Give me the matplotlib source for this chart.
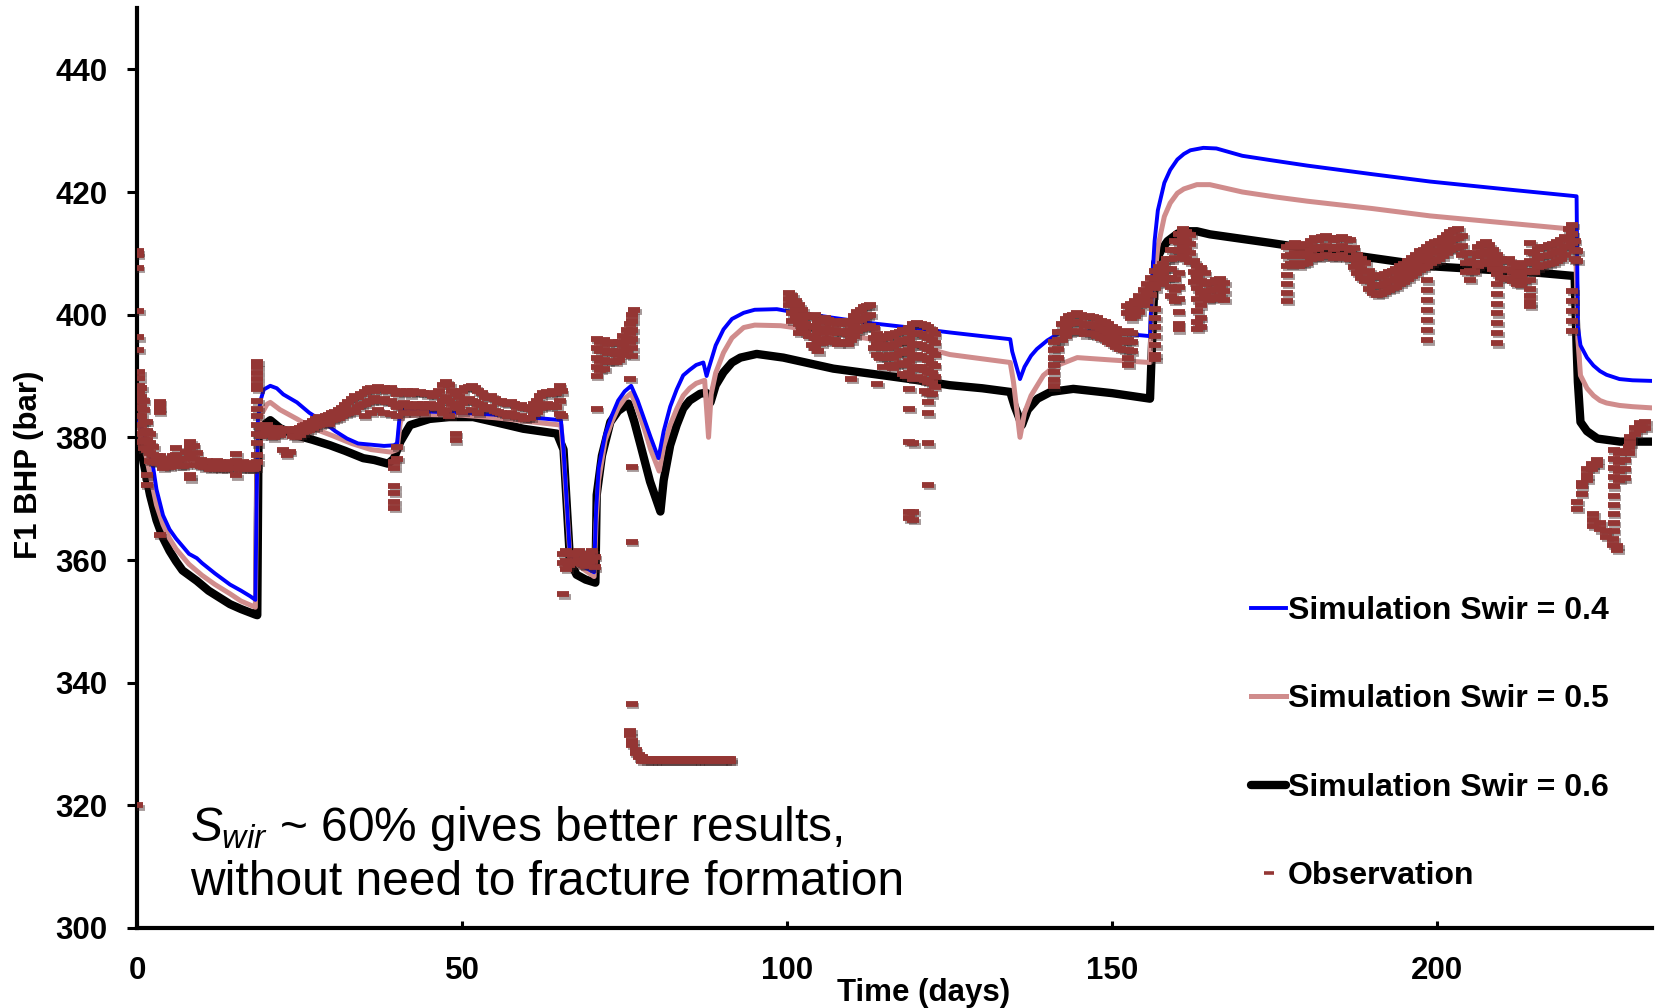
import matplotlib
matplotlib.use("Agg")
import matplotlib.pyplot as plt
from matplotlib.transforms import offset_copy

plt.rcParams['font.family'] = 'Liberation Sans'
plt.rcParams['mathtext.fontset'] = 'custom'
plt.rcParams['mathtext.rm'] = 'Liberation Sans'
plt.rcParams['mathtext.it'] = 'Liberation Sans:italic'
plt.rcParams['mathtext.bf'] = 'Liberation Sans:bold'

# Simulated bottom-hole pressure, Swir = 0.4
sim04_day = [0, 1, 2, 2.5, 3, 4, 5, 6, 8, 9.2, 10, 12, 14.3, 16, 17.4, 18.2,
             18.4, 18.6, 19, 19.5, 20.5, 21.5, 22.5, 24.6, 26.5, 28.7, 30.5, 32.3, 34, 36, 38, 39.5,
             40, 40.5, 41, 45, 50, 55, 60, 65.2,
             65.6, 66.6, 68, 70.3, 70.6, 71, 72, 73, 74, 75, 76, 77, 78, 79, 80.2,
             81, 82, 83, 84, 85, 86, 87.1, 87.6, 88, 89, 90.2, 91.5, 93.3, 95, 98.4, 100, 107, 113,
             118.9, 125, 130, 134.3, 134.6, 135.8, 136.5, 137.5, 138.4, 140, 142, 145, 149.7, 155.8,
             156.1, 156.5, 157, 158, 158.9, 160, 161, 162, 164, 166, 168, 170, 174.3, 180, 190,
             198.9, 210, 221.4, 221.6, 222, 223, 224, 225, 226, 228, 230, 233]
sim04_bar = [383, 381, 377, 375, 371.5, 367.3, 365, 363.5, 361, 360.3, 359.5, 357.8, 356, 355, 354.1, 353.5,
             370, 383, 386, 387.8, 388.4, 388, 387, 385.7, 384, 382.5, 381, 379.8, 379, 378.8, 378.6, 378.7,
             379, 384.7, 384.5, 384.2, 384, 383.7, 383.3, 382.8,
             378, 360.5, 359.3, 358, 368, 375, 380.5, 383.5, 386, 387.5, 388.4, 386, 383, 380, 376.6,
             381, 385, 387.8, 390.1, 391, 391.8, 392.2, 390, 391.5, 395, 397.6, 399.3, 400.3, 400.8, 400.9, 400.6, 399.5, 398.6,
             397.9, 397.1, 396.5, 396, 394, 389.5, 391.5, 393.3, 394.4, 395.8, 397.1, 397.3, 397.1, 396.5,
             405, 412, 417, 421.5, 423.6, 425.3, 426.2, 426.8, 427.2, 427.1, 426.5, 425.9, 425.2, 424.3, 422.9,
             421.7, 420.5, 419.3, 398, 395, 393, 391.7, 390.8, 390.2, 389.5, 389.3, 389.2]

# Swir = 0.5
sim05_day = [0, 1, 2, 3, 4, 5, 6, 8, 10, 12, 14.3, 16, 18.2,
             18.5, 19, 20, 20.5, 22, 24.6, 27, 30, 33, 36, 39,
             40, 40.5, 41, 45, 50, 55, 60, 65.2,
             65.6, 66.6, 68, 70.3, 70.6, 71, 72, 73, 74, 75, 76, 77, 78, 79, 80.3,
             81, 82, 83, 84, 85, 86, 87.3, 87.9, 88.3, 89, 90.2, 91.5, 93.3, 95, 99, 107, 113,
             118.9, 125, 130, 134.3, 134.8, 135.8, 136.5, 137.5, 139.4, 141, 144.6, 150, 155.8,
             156, 156.5, 157, 158, 158.9, 160, 161, 163, 165, 170, 175, 180, 190, 198.9, 210, 221.2,
             221.6, 222, 223, 224, 225, 226, 228, 230, 233]
sim05_bar = [382, 379, 374, 369, 365.8, 363.5, 361.8, 359.3, 357.5, 356, 354.5, 353.3, 352.3,
             380, 383.5, 385.4, 385.7, 384.5, 383, 381.5, 380.3, 379, 378, 377.6,
             378, 382.5, 383.5, 383.7, 383.6, 383.2, 382.6, 382,
             377, 360.5, 359, 357.3, 366, 373, 379.5, 382.5, 384.8, 386.3, 387.2, 384.5, 381.5, 378, 374.5,
             378.5, 382, 384.6, 386.8, 388, 388.8, 389.3, 380, 387, 390.5, 393.8, 396.2, 397.9, 398.3, 398.2, 397, 396,
             395.2, 393.5, 392.8, 392.2, 389, 380, 384, 386.8, 390.1, 391.5, 393, 392.6, 392.2,
             400, 406, 411, 416, 418.2, 419.8, 420.5, 421.2, 421.2, 420, 419.2, 418.5, 417.3, 416.1, 415, 413.9,
             396, 390.1, 388, 386.8, 386, 385.6, 385.2, 385, 384.8]

# Swir = 0.6
sim06_day = [0, 0.5, 1, 2, 3, 4, 5, 6, 7, 9.2, 11, 14.3, 16, 18.2, 18.5,
             18.7, 19.5, 20.5, 22, 24.6, 27, 29.7, 32, 34.8, 36.5, 38.6, 39.5, 40.5, 42, 45, 48,
             51.7, 55, 59.4, 64.6, 65.6, 66.6, 67.6, 69, 70.5,
             70.7, 71.5, 72.8, 74, 75.6, 76.5, 77.5, 78.9, 80.5, 81, 82, 83, 84, 85, 86.6, 87.5, 88.2,
             89, 90.2, 91.5, 92.8, 95.3, 99.4, 107.1, 114.8, 118.9, 125, 130, 134.3, 135, 136.1, 137,
             138.5, 140.5, 144, 150, 155.8, 156.1, 156.6, 157.5, 158.5, 160, 161, 163, 165, 174.3,
             185, 198.9, 215.8, 221.1, 221.4, 221.6, 222, 223, 224.6, 228.1, 233]
sim06_bar = [381, 379.3, 376, 370.6, 366.5, 363.6, 361.5, 359.8, 358.3, 356.6, 355, 352.8, 352, 351.1, 351,
             381.4, 382, 382.8, 381.5, 380.3, 379.6, 378.7, 377.8, 376.6, 376.3, 375.7, 376.5, 379.3, 382, 383, 383.3,
             383.3, 382.5, 381.4, 380.6, 378, 359.8, 357.6, 356.8, 356.3,
             370.6, 377, 382.5, 384.3, 385.5, 382.5, 378.5, 372.8, 367.9, 373, 378.7, 382, 384.7, 386, 387.1, 387.3, 385.7,
             388.5, 390.6, 392.2, 393, 393.6, 393, 391.2, 390.1, 389.5, 388.5, 388, 387.4, 385, 382, 384.5,
             386.3, 387.4, 387.9, 387.2, 386.3, 395, 408.5, 410.5, 412, 413.2, 413.6, 413.6, 413.1, 411.7,
             410, 407.9, 406.8, 406.3, 395, 389, 382.5, 381, 379.8, 379.3, 379.3]

# Observed BHP: each row is (day, pressure readings on that day ...)
obs_first_weeks = [
    (0.0, 320.0), (0.1, 410.3, 409.8, 407.6), (0.2, 400.6, 396.3, 394.3),
    (0.3, 390.6, 389.6, 388.4, 387.2, 386.0, 384.8, 383.5),
    (0.6, 388.0, 386.5, 385.0, 383.5, 382.0, 380.5, 379.2),
    (1.0, 386.0, 384.5, 382.5, 381.0, 379.5, 378.2), (1.5, 382.5, 381.0, 379.5, 378.0, 373.8, 372.2),
    (2.0, 380.5, 379.0, 377.5, 376.2), (2.5, 378.5, 377.2, 376.0), (3.0, 377.0, 375.8),
    (3.5, 385.8, 384.9, 384.2, 377.0, 376.0, 364.1), (4.0, 376.0, 375.0), (4.5, 376.5, 375.3),
    (5.0, 376.2, 375.2), (5.5, 377.0, 375.8), (6.0, 378.2, 377.2, 376.0), (6.5, 376.5, 375.3),
    (7.0, 376.5, 375.4), (7.5, 377.6, 375.5), (8.2, 379.3, 378.5, 377.0, 373.8, 373.3), (8.7, 378.6, 376.5),
    (9.2, 377.5, 375.5), (9.8, 376.3, 375.3), (10.3, 376.0, 375.1), (10.8, 376.2, 375.2),
    (11.3, 376.0, 374.9), (11.8, 375.8, 375.0), (12.3, 376.1, 375.1), (12.8, 375.9, 374.8),
    (13.3, 375.8, 375.0), (13.8, 375.7, 374.9), (14.3, 376.0, 375.0), (14.8, 375.8, 375.0),
    (15.3, 377.3, 376.2, 373.8), (15.8, 375.6, 374.8), (16.3, 375.9, 375.0), (16.8, 375.7, 374.8),
    (17.3, 375.6, 374.9), (17.8, 375.8, 374.9), (18.2, 375.7, 375.0),
    (18.5, 392.3, 391.5, 390.5, 389.5, 388.5, 387.9, 386.0, 384.7, 383.5, 382.0, 380.5, 379.0, 377.1, 376.0),
]
obs_days_19_40 = [
    (19.0, 381.5, 380.2), (19.5, 381.8, 380.5), (20.0, 382.0, 380.8), (20.5, 381.5, 380.3),
    (21.0, 381.2, 380.0), (21.5, 381.6, 380.5), (22.0, 381.3, 380.4), (22.5, 381.0, 378.0),
    (23.0, 381.2, 377.2), (23.5, 381.4, 377.6), (24.0, 381.0, 380.2), (24.5, 381.3, 380.0),
    (25.0, 381.5, 380.4), (25.5, 381.8, 380.8), (26.0, 382.0, 381.0), (26.5, 382.4, 381.2),
    (27.0, 382.6, 381.5), (27.5, 383.0, 381.8), (28.0, 383.3, 382.0), (28.5, 383.2, 382.2),
    (29.0, 383.5, 382.4), (29.5, 383.6, 382.2), (30.0, 384.0, 382.8), (30.5, 384.2, 383.0),
    (31.0, 384.5, 383.2), (31.5, 384.8, 383.5), (32.0, 385.3, 383.8), (32.5, 385.8, 384.0),
    (33.0, 386.3, 384.5), (33.5, 386.8, 384.2), (34.0, 386.5, 385.0), (34.5, 387.0, 385.3),
    (35.0, 387.4, 385.5, 383.5), (35.5, 387.8, 385.8), (36.0, 388.0, 386.0, 384.0), (36.5, 387.6, 386.4),
    (37.0, 388.2, 386.1, 384.5), (37.5, 387.8, 386.0), (38.0, 388.1, 386.2, 384.0), (38.5, 387.5, 385.8),
    (39.0, 388.0, 386.0, 383.8), (39.5, 387.6, 385.5, 376.0, 375.0, 372.0, 371.0, 369.5, 368.5),
]
obs_days_40_66 = [
    (40.0, 387.0, 385.0, 383.5, 378.5, 376.5), (40.5, 387.5, 385.2), (41.0, 387.2, 385.6, 384.0),
    (41.5, 387.6, 385.5), (42.0, 387.0, 385.0), (42.5, 387.5, 385.3, 384.0), (43.0, 387.3, 385.5),
    (43.5, 387.4, 385.0), (44.0, 387.2, 385.5, 384.0), (44.5, 387.0, 385.0), (45.0, 387.3, 385.4),
    (45.5, 386.8, 385.0), (46.0, 387.0, 384.8), (46.5, 387.5, 385.2), (47.0, 388.5, 386.0, 384.0),
    (47.5, 389.0, 386.5, 384.5), (48.0, 388.5, 386.0, 383.5), (48.5, 387.5, 385.5),
    (49.0, 387.0, 385.0, 380.5, 379.5), (49.5, 386.5, 384.8), (50.0, 387.6, 385.6, 384.2),
    (50.5, 388.0, 386.0), (51.0, 388.2, 386.3), (51.5, 388.3, 386.0, 384.5), (52.0, 388.0, 385.8),
    (52.5, 387.5, 385.5, 384.0), (53.0, 387.2, 385.2), (53.5, 386.6, 384.8), (54.0, 386.4, 384.6),
    (54.5, 386.8, 385.0), (55.0, 386.3, 384.3), (55.5, 385.8, 384.2), (56.0, 386.0, 384.0),
    (56.5, 385.6, 383.8), (57.0, 385.4, 383.5), (57.5, 385.8, 384.0), (58.0, 385.5, 383.6),
    (58.5, 385.0, 383.3), (59.0, 385.2, 383.4), (59.5, 384.8, 383.0), (60.0, 385.0, 383.2),
    (60.5, 384.7, 383.2), (61.0, 385.5, 383.8), (61.5, 386.0, 384.2), (62.0, 386.8, 384.8),
    (62.5, 387.2, 385.2), (63.0, 387.4, 385.5), (63.5, 387.0, 385.0), (64.0, 387.5, 385.3),
    (64.5, 387.2, 385.0), (65.0, 388.4, 386.0, 383.8), (65.3, 387.5, 383.5),
]
obs_days_65_92 = [
    (65.5, 361.0, 359.5, 354.4), (66.0, 361.5, 359.8, 358.5), (66.5, 361.0, 359.2), (67.0, 360.8, 359.5),
    (67.5, 361.2, 359.8), (68.0, 361.5, 360.0), (68.5, 361.0, 359.3), (69.0, 360.5, 359.0),
    (69.5, 361.0, 359.6), (70.0, 361.4, 359.8), (70.4, 360.5, 358.8),
    (70.7, 396.0, 394.5, 393.0, 391.5, 390.0, 384.7), (71.2, 395.5, 394.0, 392.5, 391.0),
    (71.8, 395.8, 394.2, 392.6, 391.2), (72.4, 395.2, 393.8, 392.3), (73.0, 395.6, 394.0, 392.5),
    (73.6, 395.3, 393.6, 392.3), (74.2, 395.5, 394.0, 392.6), (74.8, 396.5, 395.0, 393.5),
    (75.3, 397.5, 396.0, 394.2), (75.8, 398.5, 397.0, 395.5, 389.5, 332.2, 331.5),
    (76.1, 375.2, 363.0, 336.6), (76.2, 400.0, 399.0, 397.5, 396.0, 394.5, 393.3, 330.5, 329.8),
    (76.5, 400.8), (76.7, 329.0, 328.5), (77.2, 328.2, 327.8), (77.7, 327.8, 327.3),
    (78.3, 327.6, 327.3), (78.9, 327.6, 327.3), (79.5, 327.6, 327.3), (80.1, 327.6, 327.3),
    (80.7, 327.6, 327.3), (81.3, 327.6, 327.3), (81.9, 327.6, 327.3), (82.5, 327.6, 327.3),
    (83.1, 327.6, 327.3), (83.7, 327.6, 327.3), (84.3, 327.6, 327.3), (84.9, 327.6, 327.3),
    (85.5, 327.6, 327.3), (86.1, 327.6, 327.3), (86.7, 327.6, 327.3), (87.3, 327.6, 327.3),
    (87.9, 327.6, 327.3), (88.5, 327.6, 327.3), (89.1, 327.6, 327.3), (89.7, 327.6, 327.3),
    (90.3, 327.6, 327.3), (90.9, 327.6, 327.3), (91.2, 327.6, 327.3),
]
obs_days_100_123 = [
    (100.3, 403.6, 402.5, 401.5), (100.8, 403.0, 401.8, 400.2, 399.0), (101.3, 402.2, 400.8, 399.5),
    (101.8, 401.5, 400.0, 398.5, 397.0), (102.3, 400.8, 399.2, 397.8), (102.8, 400.0, 398.5, 397.0),
    (103.3, 399.6, 398.0, 396.5), (103.8, 399.8, 398.2, 396.6, 395.0), (104.3, 400.0, 398.0, 396.2, 394.5),
    (104.8, 399.0, 397.3, 395.5, 394.0), (105.3, 398.8, 397.0, 395.3), (105.8, 399.5, 397.8, 396.0),
    (106.3, 399.2, 397.6, 396.0), (106.8, 398.6, 397.0, 395.5), (107.3, 399.0, 397.5, 395.8),
    (107.8, 398.5, 397.0, 395.2), (108.3, 398.8, 397.2, 395.6), (108.8, 399.0, 397.4, 395.6),
    (109.3, 398.4, 396.8, 395.2), (109.8, 399.0, 397.5, 395.8, 389.5), (110.3, 399.8, 398.2, 396.5),
    (110.8, 400.5, 399.0, 397.3), (111.3, 400.8, 399.2, 397.6), (111.8, 401.2, 399.5, 397.8),
    (112.3, 401.4, 399.8, 398.0), (112.8, 401.5, 400.0, 398.2), (113.3, 397.8, 396.2, 394.5),
    (113.8, 396.8, 395.2, 393.5, 388.7), (114.3, 396.0, 394.5, 393.0), (114.8, 396.5, 395.0, 393.2, 391.5),
    (115.3, 396.2, 394.6, 393.0), (115.8, 396.8, 395.0, 393.4, 391.8), (116.3, 396.5, 394.8, 393.0, 391.3),
    (116.8, 397.0, 395.2, 393.5, 391.8), (117.3, 397.2, 395.6, 393.8, 392.0),
    (117.8, 397.5, 395.8, 394.0, 392.2, 390.4), (118.3, 397.2, 395.5, 393.7, 391.8, 390.0),
    (118.8, 397.8, 396.0, 394.2, 392.4, 390.5, 387.9, 384.6, 379.3, 367.9, 366.8),
    (119.4, 398.5, 396.8, 395.0, 393.0, 391.2, 389.5, 379.0, 367.9, 366.5),
    (120.0, 398.7, 397.0, 395.2, 393.5, 391.5, 389.8), (120.6, 398.5, 396.8, 395.0, 393.2, 391.4, 389.6),
    (121.2, 398.3, 396.6, 394.8, 393.0, 391.0, 389.3, 387.5),
    (121.7, 398.0, 396.2, 394.4, 392.6, 390.6, 389.0, 387.2, 385.8, 383.9, 379.0, 372.2),
    (122.2, 397.5, 395.8, 394.0, 392.0, 390.5, 388.8, 387.0), (122.7, 396.8, 395.3, 393.5, 391.7, 389.9, 388.2),
]
obs_days_141_168 = [
    (141.0, 395.5, 394.2, 393.0, 391.8, 390.6, 389.4, 388.3), (141.6, 397.2, 395.8, 394.4, 393.0),
    (142.2, 398.5, 397.2, 395.8), (142.8, 399.3, 398.0, 396.6), (143.4, 399.8, 398.5, 397.1),
    (144.0, 400.0, 398.6, 397.2), (144.6, 400.2, 398.8, 397.4), (145.2, 400.0, 398.6, 397.2),
    (145.8, 399.6, 398.2, 396.8), (146.4, 399.8, 398.4, 397.0), (147.0, 399.6, 398.2, 396.8),
    (147.6, 399.4, 398.0, 396.6), (148.2, 399.0, 397.6, 396.2), (148.8, 398.8, 397.4, 396.0),
    (149.4, 398.4, 397.0, 395.6), (150.0, 398.0, 396.6, 395.2), (150.6, 397.6, 396.2, 394.8),
    (151.2, 397.2, 395.8, 394.4), (151.8, 397.0, 395.6, 394.2), (152.4, 397.3, 395.8, 394.3, 393.0, 391.8),
    (153.0, 397.0, 395.5, 394.0), (152.3, 401.4, 400.2), (152.9, 401.8, 400.6, 399.4),
    (153.5, 402.3, 401.0, 399.8), (154.1, 403.0, 401.8, 400.5), (154.8, 404.1, 402.8, 401.5),
    (155.4, 405.0, 403.6, 402.2), (156.0, 406.0, 404.6, 403.2),
    (156.6, 407.2, 405.8, 404.3, 400.9, 399.5, 398.0, 396.5, 395.0, 393.5, 392.8),
    (157.2, 407.8, 406.4, 405.0), (157.8, 408.3, 406.8, 405.2), (158.4, 409.0, 407.5, 406.0),
    (159.0, 410.5, 409.0, 407.5, 406.0, 404.5, 403.0), (159.6, 412.0, 410.6, 409.2, 405.8, 404.0, 402.2),
    (160.2, 413.2, 411.8, 410.3, 406.8, 404.5, 402.5, 400.5, 398.5, 397.6),
    (160.8, 413.9, 412.5, 411.0, 409.5), (161.4, 413.5, 412.0, 410.5, 409.0), (162.0, 413.0, 411.5, 410.0, 408.6),
    (162.6, 408.7, 407.0, 405.3), (163.1, 408.0, 406.2, 404.3, 402.5, 400.6, 398.8, 397.7),
    (163.6, 407.6, 405.5, 403.5, 401.5, 399.5, 398.0), (164.2, 406.8, 405.0, 403.0),
    (164.8, 405.2, 403.8, 402.4), (165.4, 405.4, 404.0, 402.6), (166.0, 405.6, 404.2, 402.8),
    (166.6, 405.8, 404.5, 403.0), (167.2, 405.2, 403.8, 402.4),
]
obs_days_176_198 = [
    (176.9, 411.0, 409.5, 408.0, 406.5, 405.0, 403.5, 402.2), (177.5, 411.4, 409.8, 408.2),
    (178.1, 411.7, 410.1, 408.5), (178.7, 411.0, 409.5, 408.0), (179.3, 411.3, 409.8, 408.3),
    (179.9, 411.6, 410.0, 408.5), (180.5, 412.0, 410.5, 409.0), (181.1, 412.5, 411.0, 409.5),
    (181.7, 412.2, 410.7, 409.2), (182.3, 412.6, 411.0, 409.5), (182.9, 412.8, 411.2, 409.7),
    (183.5, 412.5, 411.0, 409.5), (184.1, 412.2, 410.7, 409.2), (184.7, 412.5, 411.0, 409.5),
    (185.3, 412.7, 411.2, 409.7), (185.9, 412.4, 410.8, 409.2), (186.5, 412.2, 410.6, 409.0),
    (187.1, 410.8, 409.3, 407.8), (187.7, 409.8, 408.3, 406.8), (188.3, 409.0, 407.5, 406.0),
    (188.9, 408.5, 407.0, 405.5), (189.5, 407.2, 405.7, 404.2), (190.1, 406.4, 404.9, 403.5),
    (190.7, 406.1, 404.6, 403.2), (191.3, 406.3, 404.8, 403.4), (191.9, 406.6, 405.1, 403.7),
    (192.5, 407.0, 405.5, 404.0), (193.1, 407.2, 405.7, 404.3), (193.7, 407.5, 406.0, 404.5),
    (194.3, 407.9, 406.4, 405.0), (194.9, 408.3, 406.8, 405.3), (195.5, 408.8, 407.3, 405.8),
    (196.1, 409.3, 407.8, 406.3), (196.7, 409.8, 408.3, 406.8), (197.3, 410.3, 408.8, 407.3),
    (197.9, 410.6, 409.1, 407.6),
]
obs_days_198_233 = [
    (198.4, 411.0, 409.5, 408.0, 405.6, 404.0, 402.4, 400.8, 399.2, 397.5, 395.8),
    (199.0, 411.5, 410.0, 408.5), (199.6, 411.8, 410.3, 408.8), (200.2, 412.0, 410.5, 409.0),
    (200.8, 412.5, 411.0, 409.5), (201.4, 413.0, 411.5, 410.0), (202.0, 413.5, 412.0, 410.5),
    (202.6, 413.8, 412.3, 410.8), (203.2, 414.0, 412.5, 411.0), (203.8, 412.8, 411.2, 409.7),
    (204.4, 410.0, 408.5, 407.0), (205.0, 408.7, 407.2, 405.7), (205.6, 410.0, 408.5, 407.0),
    (206.2, 411.0, 409.5, 408.0), (206.8, 411.5, 410.0, 408.5), (207.4, 411.8, 410.3, 408.8),
    (208.0, 411.3, 409.8, 408.3), (208.6, 410.5, 409.0, 407.5),
    (209.2, 409.7, 408.2, 406.7, 405.0, 403.4, 401.8, 400.2, 398.6, 397.0, 395.3),
    (209.8, 409.0, 407.5, 406.0), (210.4, 408.8, 407.3, 405.8), (211.0, 409.0, 407.5, 406.0),
    (211.6, 408.5, 407.0, 405.5), (212.2, 408.0, 406.5, 405.0), (212.8, 407.8, 406.3, 404.8),
    (213.4, 408.5, 407.0, 405.5),
    (214.3, 411.7, 410.2, 408.7, 407.2, 405.7, 404.2, 403.0, 402.0, 401.4), (214.8, 410.0, 408.5, 407.0),
    (215.4, 410.7, 409.2, 407.7), (216.0, 411.0, 409.5, 408.0), (216.6, 411.1, 409.6, 408.1),
    (217.2, 411.3, 409.8, 408.3), (217.8, 411.5, 410.0, 408.5), (218.4, 411.8, 410.3, 408.8),
    (219.0, 412.1, 410.6, 409.1), (219.6, 412.7, 411.2, 409.7), (220.2, 414.0, 412.5, 411.0),
    (220.7, 414.7, 413.2, 411.7, 403.9, 402.3, 400.6, 399.0, 397.4), (221.1, 412.0, 410.5, 409.0),
    (221.5, 410.3, 408.8, 368.3, 369.5), (222.2, 370.8, 372.0, 372.5), (223.0, 373.0, 373.8, 374.8),
    (223.8, 374.8, 375.6), (224.6, 375.5, 376.3),
    (224.0, 367.5, 366.5, 365.5), (225.0, 366.0, 365.0), (226.0, 364.8, 363.8), (227.0, 363.5, 362.5),
    (227.6, 362.3, 361.6),
    (227.1, 378.0, 376.5, 375.0, 373.5, 372.0, 370.5, 369.0, 367.5, 366.0, 364.7),
    (228.0, 377.5, 376.0, 374.5, 373.0), (228.8, 377.8, 376.3, 374.8, 373.3), (229.5, 378.5, 377.5),
    (229.6, 379.0, 380.0), (230.4, 380.5, 381.5), (231.2, 381.2, 382.3), (232.0, 381.5, 382.5),
]

y_ticks = [300, 320, 340, 360, 380, 400, 420, 440]
x_ticks = [0, 50, 100, 150, 200]

obs_day, obs_bar = [], []
for group in (obs_first_weeks, obs_days_19_40, obs_days_40_66, obs_days_65_92,
              obs_days_100_123, obs_days_141_168, obs_days_176_198, obs_days_198_233):
    for row in group:
        for p in row[1:]:
            obs_day.append(row[0])
            obs_bar.append(p)

fig = plt.figure(figsize=(16.56, 10.08), dpi=100)
ax = fig.add_axes([137 / 1656, 80 / 1008, 1515 / 1656, 920 / 1008])

l06, = ax.plot(sim06_day, sim06_bar, color='black', lw=6, solid_joinstyle='round',
               solid_capstyle='round', zorder=2, label='Simulation Swir = 0.6')
l05, = ax.plot(sim05_day, sim05_bar, color='#D08C8C', lw=3.6, solid_joinstyle='round',
               zorder=3, label='Simulation Swir = 0.5')
l04, = ax.plot(sim04_day, sim04_bar, color='#0000FF', lw=2.8, solid_joinstyle='round',
               zorder=4, label='Simulation Swir = 0.4')

# soft drop shadow under the observation dashes
shadow = offset_copy(ax.transData, fig=fig, x=1.2, y=-1.6, units='points')
ax.plot(obs_day, obs_bar, ls='none', marker='_', ms=8.5, mew=4.2, color='#3a2020',
        alpha=0.45, transform=shadow, zorder=4.5)
lobs, = ax.plot(obs_day, obs_bar, ls='none', marker='_', ms=8.5, mew=4.2, color='#943634',
                zorder=5, label='Observation')

ax.set_xlim(0, 233)
ax.set_ylim(300, 450)
ax.set_xticks(x_ticks)
ax.set_yticks(y_ticks)
ax.tick_params(axis='y', direction='out', length=7, width=2.2, pad=14, labelsize=22.5)
ax.tick_params(axis='x', direction='in', length=5, width=2.2, pad=20, labelsize=22.5)
for lbl in ax.get_xticklabels() + ax.get_yticklabels():
    lbl.set_fontweight('bold')
for side in ('top', 'right'):
    ax.spines[side].set_visible(False)
for side in ('left', 'bottom'):
    ax.spines[side].set_linewidth(3)

ax.set_xlabel('Time (days)', fontsize=22.5, fontweight='bold')
ax.xaxis.set_label_coords(0.5195, -0.054)
ax.set_ylabel('F1 BHP (bar)', fontsize=22.5, fontweight='bold')
ax.yaxis.set_label_coords(-0.0614, 0.503)

ax.text(0.035, 0.025, '$S_{wir}$ ~ 60% gives better results,\nwithout need to fracture formation',
        transform=ax.transAxes, fontsize=34.5, va='bottom', ha='left', linespacing=1.2)

leg = ax.legend(handles=[l04, l05, l06, lobs], loc='upper left', bbox_to_anchor=(1251 / 1656, 1 - 596 / 1008),
                bbox_transform=fig.transFigure, frameon=False, borderpad=0, borderaxespad=0,
                handlelength=1.1, handletextpad=0.05, labelspacing=1.83,
                prop={'weight': 'bold', 'size': 23})
leg.legend_handles[3].set_markeredgewidth(2.6)
leg.legend_handles[3].set_markersize(7)

fig.savefig('out.png', dpi=100)
